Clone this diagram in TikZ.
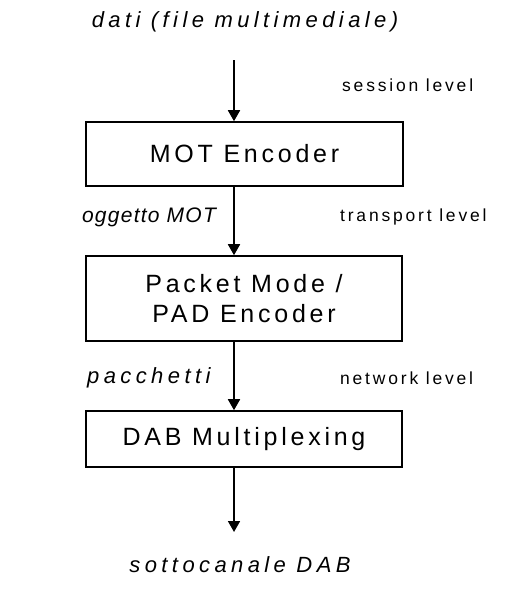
\documentclass[tikz,border=0pt]{standalone}
\usepackage{fontspec}
\setmainfont{Liberation Sans}
\newfontfamily\boxfont{Liberation Sans}[LetterSpace=15]
\newfontfamily\datafont{Liberation Sans}[LetterSpace=20]
\newfontfamily\objfont{Liberation Sans}[LetterSpace=6]
\newfontfamily\levelfont{Liberation Sans}[LetterSpace=16]
\usetikzlibrary{arrows.meta}

\tikzset{
  flow/.style={line width=1.8pt, -{Triangle[width=12pt,length=11pt]}},
  block/.style={draw, line width=1.6pt, inner sep=0pt, align=center,
    font=\boxfont\fontsize{25}{30}\selectfont},
  datalabel/.style={inner sep=0pt, font=\datafont\fontsize{22}{26}\selectfont\itshape},
  levellabel/.style={inner sep=0pt, anchor=west, font=\levelfont\fontsize{17.5}{20}\selectfont}
}

\begin{document}
\begin{tikzpicture}[x=1pt, y=-1pt]
  \useasboundingbox (0,0) rectangle (509,605);

  % processing blocks
  \node[block, minimum width=317pt, minimum height=64pt] (mot) at (244.5,154) {MOT Encoder};
  \node[block, minimum width=316pt, minimum height=85pt] (pad) at (244,298.5) {Packet Mode /\\PAD Encoder};
  \node[block, minimum width=316pt, minimum height=56pt] (dab) at (244,439) {DAB Multiplexing};

  % data carried between the blocks
  \node[datalabel] (dati) at (245,22) {dati (file multimediale)};
  \node[datalabel, font=\objfont\fontsize{21}{26}\selectfont\itshape] (ogg) at (149,217) {oggetto MOT};
  \node[datalabel, anchor=west] (pacch) at (87,378) {pacchetti};
  \node[datalabel] (sotto) at (240,565) {sottocanale DAB};

  % protocol levels
  \node[levellabel] (sess) at (342,85) {session level};
  \node[levellabel] (trans) at (340,217) {transport level};
  \node[levellabel] (netw) at (340,378) {network level};

  % connectors
  \coordinate (in) at (234,60);
  \coordinate (out) at (234,532);
  \draw[flow] (in) -- (in |- mot.north);
  \draw[flow] (in |- mot.south) -- (in |- pad.north);
  \draw[flow] (in |- pad.south) -- (in |- dab.north);
  \draw[flow] (in |- dab.south) -- (out);
\end{tikzpicture}
\end{document}
